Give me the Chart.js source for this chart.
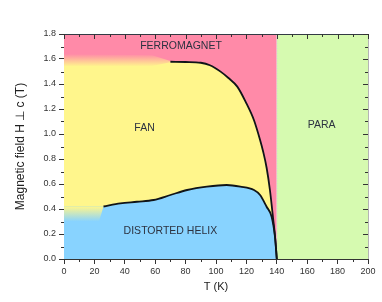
<!DOCTYPE html>
<html>
<head>
<meta charset="utf-8">
<script src="https://cdn.jsdelivr.net/npm/chart.js@4.4.0/dist/chart.umd.min.js"></script>
<style>
  html, body { margin: 0; padding: 0; background: #fff; }
  canvas { display: block; }
</style>
</head>
<body>
<canvas id="phase" width="382" height="302"></canvas>
<script>
// phase boundaries (T in K, H in tesla)
const upperT = [70, 80, 90, 96, 103, 108, 114, 120, 125, 129, 131, 133.3, 135.5, 137.7, 139, 140];
const upperH = [1.578, 1.576, 1.57, 1.55, 1.499, 1.45, 1.379, 1.245, 1.11, 0.952, 0.86, 0.73, 0.55, 0.31, 0.16, 0];
const lowerT = [26, 37, 48, 59, 70, 81, 94, 107, 116, 125, 129, 133.3, 136.6, 138.8, 140];
const lowerH = [0.42, 0.445, 0.458, 0.472, 0.512, 0.552, 0.579, 0.592, 0.579, 0.552, 0.512, 0.418, 0.338, 0.178, 0];

// left edge, where the diagram fades instead of having a line
const fanLeftH = 1.58;      // yellow top at T = 0
const helixLeftH = 0.42;    // blue top at T = 0
const fmBlendT = [0, 58, 70];
const fmBlendTop = [1.64, 1.63, 1.585];
const fmBlendBottom = [1.54, 1.545, 1.575];
const helixBlendT = [0, 23, 26];
const helixBlendTop = [0.42, 0.42, 0.42];
const helixBlendBottom = [0.30, 0.30, 0.42];

const phaseT = [0, 140, 200];        // ferro 0-140, para 140-200
const Hmax = 1.8;

const regionNames = ['FERROMAGNET', 'FAN', 'DISTORTED HELIX', 'PARA'];
const regionT = [77, 53, 70, 169.5];
const regionH = [1.70, 1.05, 0.22, 1.07];

const PINK = '#ff8aa8', YELLOW = '#fff68c', BLUE = '#88d3ff', GREEN = '#d6fab0';
const FONT = '"Liberation Sans", Arial, sans-serif';

const pts = (xs, ys) => xs.map((t, i) => ({x: t, y: ys[i]}));
const flat = (xs, h) => xs.map(t => ({x: t, y: h}));

function vGradient(lo, hi, cLo, cHi) {
  return (c) => {
    const chart = c.chart;
    if (!chart.chartArea) return cLo;
    const y = chart.scales.y;
    const g = chart.ctx.createLinearGradient(0, y.getPixelForValue(hi), 0, y.getPixelForValue(lo));
    g.addColorStop(0, cHi);
    g.addColorStop(1, cLo);
    return g;
  };
}

const area = (data, color, extra) => Object.assign({
  data, backgroundColor: color, borderWidth: 0, pointRadius: 0, fill: 'origin'
}, extra || {});

const datasets = [
  // boundary lines (on top)
  {data: pts(upperT, upperH), borderColor: '#101418', borderWidth: 1.8, pointRadius: 0,
   fill: false, cubicInterpolationMode: 'monotone'},
  {data: pts(lowerT, lowerH), borderColor: '#101418', borderWidth: 1.8, pointRadius: 0,
   fill: false, cubicInterpolationMode: 'monotone'},
  {data: [{x: phaseT[1], y: 0}, {x: phaseT[1], y: Hmax}],
   borderColor: '#d0d0d0', borderWidth: 1, borderDash: [1, 1.5], pointRadius: 0, fill: false},
  // helix / fan blend
  area(pts(helixBlendT, helixBlendTop), vGradient(helixBlendBottom[0], helixBlendTop[0], BLUE, YELLOW), {fill: '+1'}),
  {data: pts(helixBlendT, helixBlendBottom), borderWidth: 0, pointRadius: 0, fill: false},
  // distorted helix
  area([{x: phaseT[0], y: helixLeftH}].concat(pts(lowerT, lowerH)), BLUE, {cubicInterpolationMode: 'monotone'}),
  // fan / ferro blend
  area(pts(fmBlendT, fmBlendTop), vGradient(fmBlendBottom[0], fmBlendTop[0], YELLOW, PINK), {fill: '+1'}),
  {data: pts(fmBlendT, fmBlendBottom), borderWidth: 0, pointRadius: 0, fill: false},
  // fan
  area([{x: phaseT[0], y: fanLeftH}].concat(pts(upperT, upperH)), YELLOW, {cubicInterpolationMode: 'monotone'}),
  // ferromagnet and para backgrounds
  area(flat([phaseT[0], phaseT[1]], Hmax), PINK),
  area(flat([phaseT[1], phaseT[2]], Hmax), GREEN)
];

// region names, minor ticks, top and right frame
const framePlugin = {
  id: 'frame',
  afterDraw(chart) {
    const {ctx, chartArea: a, scales: {x, y}} = chart;
    ctx.save();
    ctx.font = '10.5px ' + FONT;
    ctx.fillStyle = '#2c3240';
    ctx.textAlign = 'center';
    ctx.textBaseline = 'middle';
    regionNames.forEach((n, i) => ctx.fillText(n, x.getPixelForValue(regionT[i]), y.getPixelForValue(regionH[i])));

    ctx.lineWidth = 1;
    ctx.strokeStyle = '#b4b4b4';
    ctx.beginPath();
    ctx.moveTo(a.right + 0.5, a.top);
    ctx.lineTo(a.right + 0.5, a.bottom);
    ctx.stroke();
    ctx.strokeStyle = '#333a44';
    ctx.beginPath();
    ctx.moveTo(a.left, a.top + 0.5);
    ctx.lineTo(a.right + 1, a.top + 0.5);
    ctx.stroke();

    ctx.strokeStyle = '#333';
    ctx.beginPath();
    for (let t = 0; t <= 200; t += 10) {
      const px = Math.round(x.getPixelForValue(t)) + 0.5;
      const major = t % 20 === 0;
      ctx.moveTo(px, a.top);
      ctx.lineTo(px, a.top + (major ? 5 : 3));
      if (!major) {
        ctx.moveTo(px, a.bottom);
        ctx.lineTo(px, a.bottom + 3);
      }
    }
    for (let k = 0; k <= 18; k++) {
      const py = Math.round(y.getPixelForValue(k / 10)) + 0.5;
      const major = k % 2 === 0;
      ctx.moveTo(a.right, py);
      ctx.lineTo(a.right - (major ? 5 : 3), py);
      if (!major) {
        ctx.moveTo(a.left, py);
        ctx.lineTo(a.left - 3, py);
      }
    }
    ctx.stroke();
    ctx.restore();
  }
};

new Chart(document.getElementById('phase'), {
  type: 'line',
  data: {datasets},
  options: {
    responsive: false,
    animation: false,
    devicePixelRatio: 1,
    layout: {padding: {top: 34, right: 14, left: 0, bottom: 0}},
    plugins: {legend: {display: false}, tooltip: {enabled: false}},
    scales: {
      x: {
        type: 'linear', min: 0, max: 200,
        ticks: {stepSize: 20, autoSkip: false, maxRotation: 0, padding: 2,
                color: '#333', font: {size: 9, family: FONT}},
        grid: {drawOnChartArea: false, tickLength: 5, tickColor: '#333'},
        border: {color: '#333'},
        title: {display: true, text: 'T (K)', color: '#222',
                font: {size: 11, family: FONT}, padding: {top: 0, bottom: 8}},
        afterFit: (s) => { s.height = 43; }
      },
      y: {
        type: 'linear', min: 0, max: Hmax,
        ticks: {stepSize: 0.2, padding: 3, color: '#333', font: {size: 9, family: FONT},
                callback: (v) => v.toFixed(1)},
        grid: {drawOnChartArea: false, tickLength: 5, tickColor: '#333'},
        border: {color: '#333'},
        title: {display: true, text: 'Magnetic field H \u22A5 c (T)', color: '#222',
                font: {size: 12, family: FONT}, padding: {top: 13, bottom: 0}},
        afterFit: (s) => { s.width = 64; }
      }
    }
  },
  plugins: [framePlugin]
});
</script>
</body>
</html>
